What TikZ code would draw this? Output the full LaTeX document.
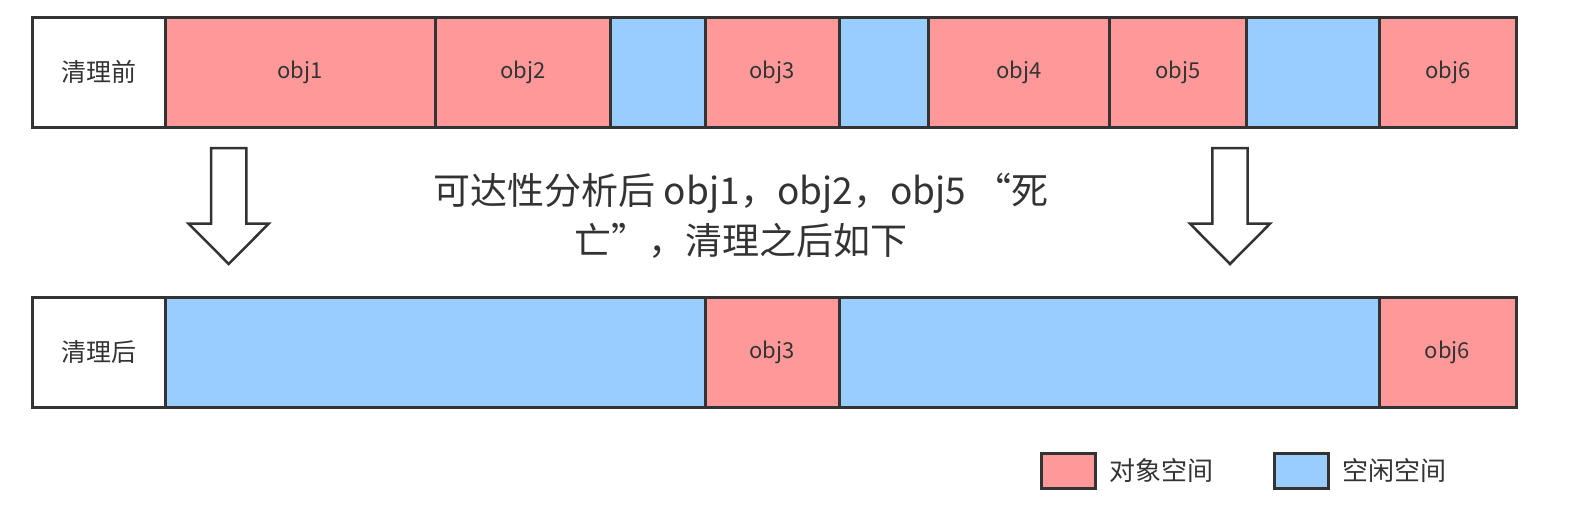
\documentclass[tikz,border=0pt]{standalone}
\usepackage{fontspec}
\setmainfont{Noto Sans CJK SC}
\usetikzlibrary{positioning}
\definecolor{objred}{HTML}{FF9999}
\definecolor{freeblue}{HTML}{99CCFF}
\definecolor{edge}{HTML}{333333}
\tikzset{
        cell/.style={rectangle, draw=edge, line width=3pt, outer sep=0pt, inner sep=0pt,
                     minimum height=110pt, text=edge, font=\fontsize{22}{26}\selectfont},
        % Label cells
        cell_label/.style={cell, fill=white, font=\fontsize{25}{30}\selectfont},
        % Live objects
        cell_obj/.style={cell, fill=objred},
        % Free space
        cell_free/.style={cell, fill=freeblue},
        % Legend boxes
        key_box/.style={rectangle, draw=edge, line width=3pt, outer sep=0pt, minimum width=54pt, minimum height=35pt},
        key_text/.style={text=edge, font=\fontsize{26}{30}\selectfont, inner sep=0pt},
        bigarrow/.style={draw=edge, line width=2.5pt, fill=white, line join=miter}
}
\begin{document}
\begin{tikzpicture}[x=1pt, y=-1pt]
    \useasboundingbox (0,0) rectangle (1580,506);
    % before
    \node[cell_label, minimum width=133pt, anchor=north west] (b0) at (32,17) {清理前};
    \node[cell_obj,  minimum width=270pt,   right=0pt of b0] (b1) {obj1};
    \node[cell_obj,  minimum width=175.4pt, right=0pt of b1] (b2) {obj2};
    \node[cell_free, minimum width=94.7pt,  right=0pt of b2] (b3) {};
    \node[cell_obj,  minimum width=134pt,   right=0pt of b3] (b4) {obj3};
    \node[cell_free, minimum width=89.7pt,  right=0pt of b4] (b5) {};
    \node[cell_obj,  minimum width=180.4pt, right=0pt of b5] (b6) {obj4};
    \node[cell_obj,  minimum width=137pt,   right=0pt of b6] (b7) {obj5};
    \node[cell_free, minimum width=133pt,   right=0pt of b7] (b8) {};
    \node[cell_obj,  minimum width=137pt,   right=0pt of b8] (b9) {obj6};
    % after
    \node[cell_label, minimum width=133pt, anchor=north west] (a0) at (32,297) {清理后};
    \node[cell_free, minimum width=540pt, right=0pt of a0] (a1) {};
    \node[cell_obj,  minimum width=134pt, right=0pt of a1] (a2) {obj3};
    \node[cell_free, minimum width=540pt, right=0pt of a2] (a3) {};
    \node[cell_obj,  minimum width=137pt, right=0pt of a3] (a4) {obj6};
    % arrows
    \foreach \ax in {228.7, 1230}
        \draw[bigarrow] (\ax-17.6,148) -- (\ax+17.6,148) -- (\ax+17.6,223.7) -- (\ax+40,223.7)
            -- (\ax,264) -- (\ax-40,223.7) -- (\ax-17.6,223.7) -- cycle;
    \node[text=edge, align=center, font=\fontsize{37}{50}\selectfont] (note) at (741,216)
        {可达性分析后 obj1，obj2，obj5 “死\\亡”，清理之后如下};
    % legend
    \node[key_box, fill=objred] (k1) at (1068,470.5) {};
    \node[key_text, right=14pt of k1] (k1t) {对象空间};
    \node[key_box, fill=freeblue] (k2) at (1301.5,470.5) {};
    \node[key_text, right=14pt of k2] (k2t) {空闲空间};
\end{tikzpicture}
\end{document}
